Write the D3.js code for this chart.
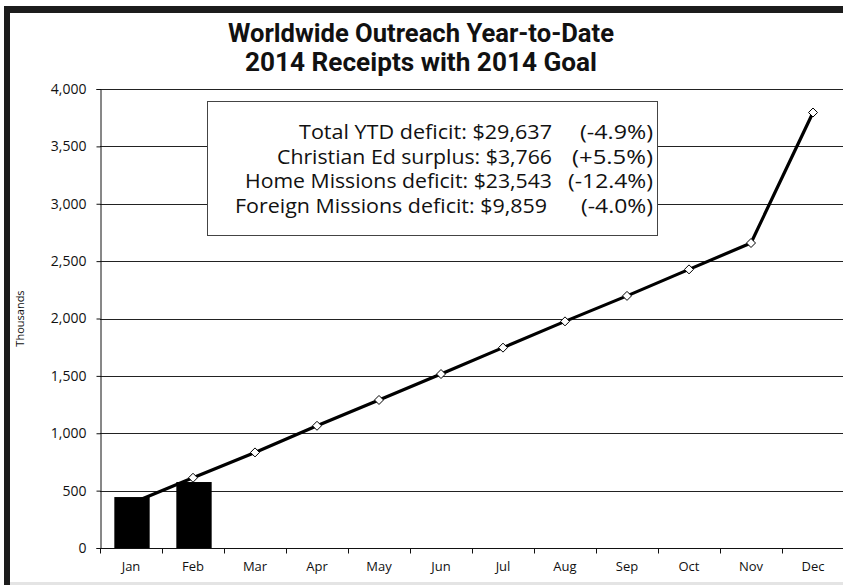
<!DOCTYPE html>
<html>
<head>
<meta charset="utf-8">
<script src="https://cdn.jsdelivr.net/npm/d3@7"></script>
<style>
  body { margin: 0; background: #fff; }
  svg text { font-family: "Open Sans", Lato, sans-serif; fill: #111; }
</style>
</head>
<body>
<div id="chart"></div>
<script>
// Worldwide Outreach YTD - receipts (bars) vs goal (line)

const months = ['Jan', 'Feb', 'Mar', 'Apr', 'May', 'Jun', 'Jul', 'Aug', 'Sep', 'Oct', 'Nov', 'Dec'];
const receipts = [444, 575];
const goal = [388, 612, 833, 1065, 1290, 1516, 1746, 1975, 2197, 2428, 2658, 3795];
const yTicks = [0, 500, 1000, 1500, 2000, 2500, 3000, 3500, 4000];
const titleLines = ['Worldwide Outreach Year-to-Date', '2014 Receipts with 2014 Goal'];
const noteLabels = ['Total YTD deficit: $29,637', 'Christian Ed surplus: $3,766',
                    'Home Missions deficit: $23,543', 'Foreign Missions deficit: $9,859'];
const notePcts = ['(-4.9%)', '(+5.5%)', '(-12.4%)', '(-4.0%)'];

const width = 843, height = 585;
const margin = { top: 89, right: -1, bottom: 37, left: 100 };

const svg = d3.select('#chart').append('svg')
    .attr('width', width)
    .attr('height', height);

// outer frame (dark top + left edge, light bottom line)
svg.append('rect').attr('x', 4).attr('y', 6).attr('width', width).attr('height', 7).attr('fill', '#1c1c1c');
svg.append('rect').attr('x', 4).attr('y', 6).attr('width', 6).attr('height', height).attr('fill', '#1c1c1c');
svg.append('rect').attr('x', 10).attr('y', 582).attr('width', width).attr('height', 3).attr('fill', '#e4e4e4');

const x = d3.scaleBand()
    .domain(months)
    .range([margin.left, width - margin.right])
    .padding(0);

const y = d3.scaleLinear()
    .domain([0, 4000])
    .range([height - margin.bottom, margin.top]);

// gridlines
svg.append('g')
    .selectAll('line')
    .data(yTicks.filter(d => d > 0))
    .enter()
    .append('line')
    .attr('x1', margin.left)
    .attr('x2', width)
    .attr('y1', d => Math.round(y(d)) + 0.5)
    .attr('y2', d => Math.round(y(d)) + 0.5)
    .attr('stroke', '#222')
    .attr('stroke-width', 1);

// y axis
const yAxis = svg.append('g')
    .attr('transform', `translate(${margin.left + 0.5},0)`)
    .call(d3.axisLeft(y).tickValues(yTicks).tickSize(4).tickPadding(10).tickFormat(d3.format(',')));
yAxis.attr('font-family', null).attr('font-size', null);
yAxis.select('.domain').attr('stroke', '#111');
yAxis.selectAll('.tick line').attr('stroke', '#111');
yAxis.selectAll('text')
    .style('font-size', '14px')
    .attr('fill', '#111');

// x axis: ticks at band boundaries
const xAxisY = Math.round(y(0)) + 0.5;
svg.append('line')
    .attr('x1', margin.left).attr('x2', width)
    .attr('y1', xAxisY).attr('y2', xAxisY)
    .attr('stroke', '#111');
svg.append('g')
    .selectAll('line')
    .data(months)
    .enter()
    .append('line')
    .attr('x1', d => Math.round(x(d)) + 0.5)
    .attr('x2', d => Math.round(x(d)) + 0.5)
    .attr('y1', xAxisY)
    .attr('y2', xAxisY + 5)
    .attr('stroke', '#111');
svg.append('g')
    .selectAll('text')
    .data(months)
    .enter()
    .append('text')
    .attr('x', d => x(d) + x.bandwidth() / 2)
    .attr('y', 571)
    .attr('text-anchor', 'middle')
    .style('font-size', '13px')
    .text(d => d);

// y axis title
svg.append('text')
    .attr('transform', `translate(24,${(y(0) + y(4000)) / 2}) rotate(-90)`)
    .attr('text-anchor', 'middle')
    .style('font-size', '11px')
    .attr('fill', '#000')
    .text('Thousands');

// goal line (drawn under bars)
const line = d3.line()
    .x((d, i) => x(months[i]) + x.bandwidth() / 2)
    .y(d => y(d));

svg.append('path')
    .datum(goal)
    .attr('d', line)
    .attr('fill', 'none')
    .attr('stroke', '#000')
    .attr('stroke-width', 3.2);

svg.append('g')
    .selectAll('path')
    .data(goal)
    .enter()
    .append('path')
    .attr('transform', (d, i) => `translate(${x(months[i]) + x.bandwidth() / 2},${y(d)})`)
    .attr('d', 'M0,-4.5L4.5,0L0,4.5L-4.5,0Z')
    .attr('fill', '#fff')
    .attr('stroke', '#000')
    .attr('stroke-width', 1);

// receipt bars
const barW = x.bandwidth() * 0.57;
svg.append('g')
    .selectAll('rect')
    .data(receipts)
    .enter()
    .append('rect')
    .attr('x', (d, i) => x(months[i]) + x.bandwidth() / 2 - barW / 2 + 1)
    .attr('y', d => y(d))
    .attr('width', barW)
    .attr('height', d => y(0) - y(d))
    .attr('fill', '#000');

// titles
const titleW = [386, 352];
svg.selectAll('.title')
    .data(titleLines)
    .enter()
    .append('text')
    .attr('class', 'title')
    .attr('x', 421)
    .attr('y', (d, i) => 42 + i * 29)
    .attr('text-anchor', 'middle')
    .attr('textLength', (d, i) => titleW[i])
    .attr('lengthAdjust', 'spacingAndGlyphs')
    .style('font-family', 'Roboto, sans-serif')
    .style('font-weight', 'bold')
    .style('font-size', '25px')
    .attr('fill', '#000')
    .text(d => d);

// note box
svg.append('rect')
    .attr('x', 207.5).attr('y', 101.5)
    .attr('width', 450).attr('height', 134)
    .attr('fill', '#fff')
    .attr('stroke', '#444')
    .attr('stroke-width', 1);

const lblW = [253, 275, 307, 312];
const pctW = [73, 81, 85, 72];
const note = svg.append('g').style('font-size', '20px');
note.selectAll('.lbl')
    .data(noteLabels)
    .enter()
    .append('text')
    .attr('class', 'lbl')
    .attr('x', (d, i) => i === 3 ? 547 : 552)
    .attr('y', (d, i) => 139 + i * 24.5)
    .attr('text-anchor', 'end')
    .attr('textLength', (d, i) => lblW[i])
    .attr('lengthAdjust', 'spacingAndGlyphs')
    .text(d => d);
note.selectAll('.pct')
    .data(notePcts)
    .enter()
    .append('text')
    .attr('class', 'pct')
    .attr('x', 653)
    .attr('y', (d, i) => 139 + i * 24.5)
    .attr('text-anchor', 'end')
    .attr('textLength', (d, i) => pctW[i])
    .attr('lengthAdjust', 'spacingAndGlyphs')
    .text(d => d);
</script>
</body>
</html>
